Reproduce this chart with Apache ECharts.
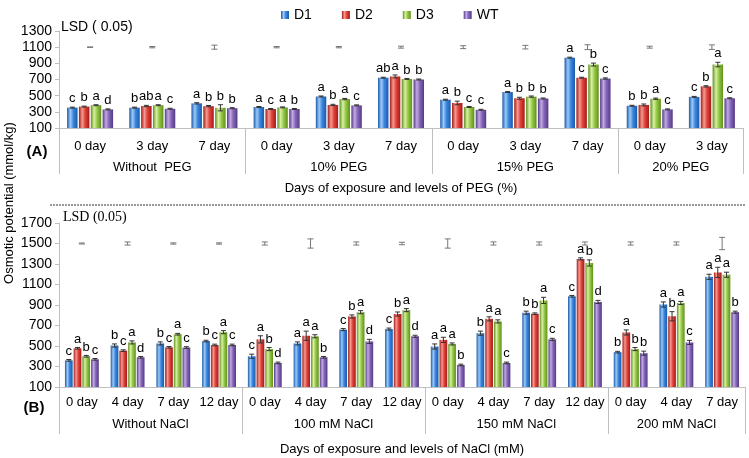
<!DOCTYPE html>
<html><head><meta charset="utf-8">
<script src="https://cdn.jsdelivr.net/npm/echarts@6/dist/echarts.min.js"></script>
<style>html,body{margin:0;padding:0;background:#fff}#c{width:749px;height:458px}</style>
</head><body><div id="c"></div>
<script>
const seriesNames = ['D1', 'D2', 'D3', 'WT'];

// ---- Panel A (PEG) ----
const catsA = ['0 day','3 day','7 day','0 day','3 day','7 day','0 day','3 day','7 day','0 day','3 day'];
const groupsA = ['Without  PEG', '10% PEG', '15% PEG', '20% PEG'];
const groupSizesA = [3, 3, 3, 2];
const d1A = [352, 352, 405, 360, 490, 722, 450, 545, 970, 375, 485];
const d2A = [365, 372, 370, 335, 385, 738, 410, 468, 722, 385, 615];
const d3A = [382, 382, 350, 355, 458, 707, 360, 488, 885, 462, 885];
const wtA = [330, 338, 345, 335, 380, 700, 325, 465, 712, 330, 468];
const e1A = [6, 6, 8, 6, 6, 6, 6, 6, 6, 6, 6];
const e2A = [6, 8, 8, 6, 8, 18, 22, 12, 6, 12, 8];
const e3A = [6, 6, 38, 6, 8, 6, 6, 8, 18, 8, 28];
const ewA = [6, 6, 6, 6, 6, 6, 6, 6, 8, 6, 6];
const l1A = ['c','b','a','a','a','ab','a','a','a','b','c'];
const l2A = ['b','ab','b','c','b','a','b','b','c','b','b'];
const l3A = ['a','a','b','a','a','b','c','b','b','a','a'];
const lwA = ['d','c','b','b','c','b','c','b','c','c','c'];
const lsdLevelA = 1100;
const lsdA = [3, 8, 25, 8, 8, 12, 18, 22, 30, 12, 28];
const yTicksA = {min: 100, max: 1300, step: 200};

// ---- Panel B (NaCl) ----
const catsB = ['0 day','4 day','7 day','12 day','0 day','4 day','7 day','12 day','0 day','4 day','7 day','12 day','0 day','4 day','7 day'];
const groupsB = ['Without NaCl', '100 mM NaCl', '150 mM NaCl', '200 mM NaCl'];
const groupSizesB = [4, 4, 4, 3];
const d1B = [360, 505, 525, 548, 400, 525, 660, 665, 495, 625, 825, 985, 440, 905, 1175];
const d2B = [478, 455, 487, 510, 565, 600, 788, 812, 560, 765, 815, 1350, 632, 790, 1218];
const d3B = [400, 535, 615, 635, 470, 595, 830, 850, 520, 740, 945, 1310, 470, 920, 1195];
const wtB = [370, 390, 485, 510, 335, 390, 545, 595, 315, 335, 565, 930, 430, 535, 830];
const e1B = [8, 15, 15, 8, 20, 15, 10, 10, 25, 20, 15, 8, 8, 25, 25];
const e2B = [8, 8, 8, 8, 35, 45, 15, 20, 25, 20, 8, 10, 25, 45, 50];
const e3B = [8, 15, 8, 15, 15, 15, 15, 15, 10, 15, 30, 30, 15, 15, 25];
const ewB = [8, 8, 8, 8, 8, 8, 20, 10, 8, 8, 10, 15, 20, 20, 10];
const l1B = ['c','b','b','b','c','a','c','c','a','b','b','c','b','a','a'];
const l2B = ['a','c','c','c','a','a','b','b','a','a','b','a','a','b','a'];
const l3B = ['b','a','a','a','b','a','a','a','a','a','a','b','b','a','a'];
const lwB = ['c','d','c','c','d','b','d','d','b','c','c','d','b','c','b'];
const lsdLevelB = 1500;
const lsdB = [5, 15, 6, 6, 15, 45, 15, 12, 45, 15, 15, 15, 15, 15, 60];
const yTicksB = {min: 100, max: 1700, step: 200};

// ---- styling ----
const palettes = [
  ['#1b5aa8', '#9ccaf7', '#3b86e0'],
  ['#a01b18', '#f49a90', '#e2423b'],
  ['#5f8f1c', '#d9f0a6', '#95c845'],
  ['#553a84', '#c1aae3', '#8466b9']
];
function grad(p) {
  return {type: 'linear', x: 0, y: 0, x2: 1, y2: 0, colorStops: [
    {offset: 0, color: p[0]}, {offset: 0.32, color: p[1]}, {offset: 0.6, color: p[2]}, {offset: 1, color: p[0]}]};
}
const FONT = 'Liberation Sans, Arial, sans-serif';
const CAT_GAP = 0.26, BAR_GAP = 0.13;

function groupLabelMap(sizes, names) {
  const m = {}; let s = 0;
  sizes.forEach((n, k) => { m[2 * s + n] = names[k]; s += n; });
  return m;
}
function groupStarts(sizes) {
  const st = new Set(); let s = 0;
  sizes.forEach(n => { st.add(s); s += n; });
  return st;
}

function panelAxes(cats, groups, sizes, gridIndex, title, tickLen, dayMargin, grpMargin, nameGap) {
  const starts = groupStarts(sizes);
  const map = groupLabelMap(sizes, groups);
  const total = sizes.reduce((a, b) => a + b, 0);
  return [
    {type: 'category', gridIndex, data: cats,
      axisLine: {lineStyle: {color: '#bfbfbf', width: 1}},
      axisTick: {show: true, length: tickLen, interval: (i) => starts.has(i), lineStyle: {color: '#bfbfbf'}},
      axisLabel: {interval: 0, color: '#000', fontSize: 13, fontFamily: FONT, margin: dayMargin},
      splitLine: {show: false}},
    {type: 'value', gridIndex, min: 0, max: 2 * total, interval: 1, position: 'bottom',
      axisLine: {show: false}, axisTick: {show: false}, splitLine: {show: false},
      axisLabel: {color: '#000', fontSize: 13, fontFamily: FONT, margin: grpMargin,
        showMinLabel: true, showMaxLabel: true, formatter: (v) => map[v] || ''},
      name: title, nameLocation: 'middle', nameGap: nameGap,
      nameTextStyle: {color: '#000', fontSize: 13, fontFamily: FONT}}
  ];
}

function yAxisFor(t, gridIndex) {
  return {type: 'value', gridIndex, min: t.min, max: t.max, interval: t.step, startValue: t.min,
    axisLine: {show: true, lineStyle: {color: '#bfbfbf'}},
    axisTick: {show: true, length: 4, lineStyle: {color: '#bfbfbf'}},
    axisLabel: {color: '#000', fontSize: 14, fontFamily: 'Liberation Sans, Arial, sans-serif', margin: 7,
      formatter: (v) => String(v)},
    splitLine: {show: false}};
}

function barSeries(name, k, vals, xi, yi) {
  return {type: 'bar', name, xAxisIndex: xi, yAxisIndex: yi, data: vals,
    barCategoryGap: (CAT_GAP * 100) + '%', barGap: (BAR_GAP * 100) + '%', clip: true,
    itemStyle: {color: grad(palettes[k])}, z: 2};
}

function errSeries(name, k, vals, errs, letters, xi, yi) {
  return {type: 'custom', name, xAxisIndex: xi, yAxisIndex: yi, silent: true, z: 5, clip: false,
    data: vals.map((v, i) => [i, v, errs[i]]),
    renderItem: (params, api) => {
      const i = api.value(0), v = api.value(1), e = api.value(2);
      const band = api.size([1, 0])[0];
      const bw = band * (1 - CAT_GAP) / (4 + 3 * BAR_GAP);
      const off = -band * (1 - CAT_GAP) / 2 + bw / 2 + k * bw * (1 + BAR_GAP);
      const top = api.coord([i, v + e]);
      const bot = api.coord([i, v - e]);
      const x = top[0] + off, cw = 2.5;
      const st = {stroke: '#333', lineWidth: 1};
      return {type: 'group', children: [
        {type: 'line', shape: {x1: x, y1: top[1], x2: x, y2: bot[1]}, style: st},
        {type: 'line', shape: {x1: x - cw, y1: top[1], x2: x + cw, y2: top[1]}, style: st},
        {type: 'line', shape: {x1: x - cw, y1: bot[1], x2: x + cw, y2: bot[1]}, style: st},
        {type: 'text', style: {text: letters[params.dataIndex], x: x, y: top[1] - 2, align: 'center', verticalAlign: 'bottom',
          font: '13px Liberation Sans, Arial, sans-serif', fill: '#000'}}
      ]};
    }};
}

function lsdSeries(level, halves, xi, yi) {
  return {type: 'custom', xAxisIndex: xi, yAxisIndex: yi, silent: true, z: 5, clip: false,
    data: halves.map((h, i) => [i, level, h]),
    renderItem: (params, api) => {
      const i = api.value(0), v = api.value(1), h = api.value(2);
      const t = api.coord([i, v + h]), b = api.coord([i, v - h]);
      const x = t[0], cw = 3;
      const st = {stroke: '#777', lineWidth: 1};
      return {type: 'group', children: [
        {type: 'line', shape: {x1: x, y1: t[1], x2: x, y2: b[1]}, style: st},
        {type: 'line', shape: {x1: x - cw, y1: t[1], x2: x + cw, y2: t[1]}, style: st},
        {type: 'line', shape: {x1: x - cw, y1: b[1], x2: x + cw, y2: b[1]}, style: st}
      ]};
    }};
}

const seriesA = [d1A, d2A, d3A, wtA], errA = [e1A, e2A, e3A, ewA], letA = [l1A, l2A, l3A, lwA];
const seriesB = [d1B, d2B, d3B, wtB], errB = [e1B, e2B, e3B, ewB], letB = [l1B, l2B, l3B, lwB];

const series = [];
seriesNames.forEach((n, k) => series.push(barSeries(n, k, seriesA[k], 0, 0)));
seriesNames.forEach((n, k) => series.push(errSeries(n, k, seriesA[k], errA[k], letA[k], 0, 0)));
series.push(lsdSeries(lsdLevelA, lsdA, 0, 0));
seriesNames.forEach((n, k) => series.push(barSeries(n, k, seriesB[k], 2, 1)));
seriesNames.forEach((n, k) => series.push(errSeries(n, k, seriesB[k], errB[k], letB[k], 2, 1)));
series.push(lsdSeries(lsdLevelB, lsdB, 2, 1));

const chart = echarts.init(document.getElementById('c'), null, {renderer: 'canvas'});
chart.setOption({
  animation: false,
  backgroundColor: '#fff',
  legend: {data: seriesNames, top: 3, left: 276, itemWidth: 8, itemHeight: 8, itemGap: 30, icon: 'rect',
    textStyle: {color: '#000', fontSize: 14, fontFamily: 'Liberation Sans, Arial, sans-serif'}},
  title: [
    {text: 'LSD ( 0.05)', left: 61, top: 20, padding: 0,
      textStyle: {color: '#000', fontSize: 14, fontWeight: 'normal', fontFamily: 'Liberation Sans, Arial, sans-serif'}},
    {text: 'LSD (0.05)', left: 63, top: 210, padding: 0,
      textStyle: {color: '#000', fontSize: 14, fontWeight: 'normal', fontFamily: 'Liberation Serif, Times New Roman, serif'}}
  ],
  grid: [
    {left: 59, right: 6, top: 31, bottom: 330, outerBoundsMode: 'none'},
    {left: 59, right: 4, top: 223, bottom: 71, outerBoundsMode: 'none'}
  ],
  xAxis: [
    ...panelAxes(catsA, groupsA, groupSizesA, 0, 'Days of exposure and levels of PEG (%)', 46, 12, 33, 54),
    ...panelAxes(catsB, groupsB, groupSizesB, 1, 'Days of exposure and levels of NaCl (mM)', 47, 9, 31, 56)
  ],
  yAxis: [yAxisFor(yTicksA, 0), yAxisFor(yTicksB, 1)],
  graphic: [
    {type: 'text', x: 9, y: 203, rotation: Math.PI / 2,
      style: {text: 'Osmotic potential (mmol/kg)', align: 'center', verticalAlign: 'middle',
        font: '13px Liberation Sans, Arial, sans-serif', fill: '#000'}},
    {type: 'text', x: 37, y: 152, style: {text: '(A)', align: 'center', verticalAlign: 'middle',
        font: 'bold 15px Liberation Sans, Arial, sans-serif', fill: '#000'}},
    {type: 'text', x: 34, y: 408, style: {text: '(B)', align: 'center', verticalAlign: 'middle',
        font: 'bold 15px Liberation Sans, Arial, sans-serif', fill: '#000'}},
    {type: 'line', shape: {x1: 50, y1: 205, x2: 745, y2: 205}, style: {stroke: '#333', lineWidth: 1, lineDash: [2, 1]}}
  ],
  series
});
</script></body></html>
